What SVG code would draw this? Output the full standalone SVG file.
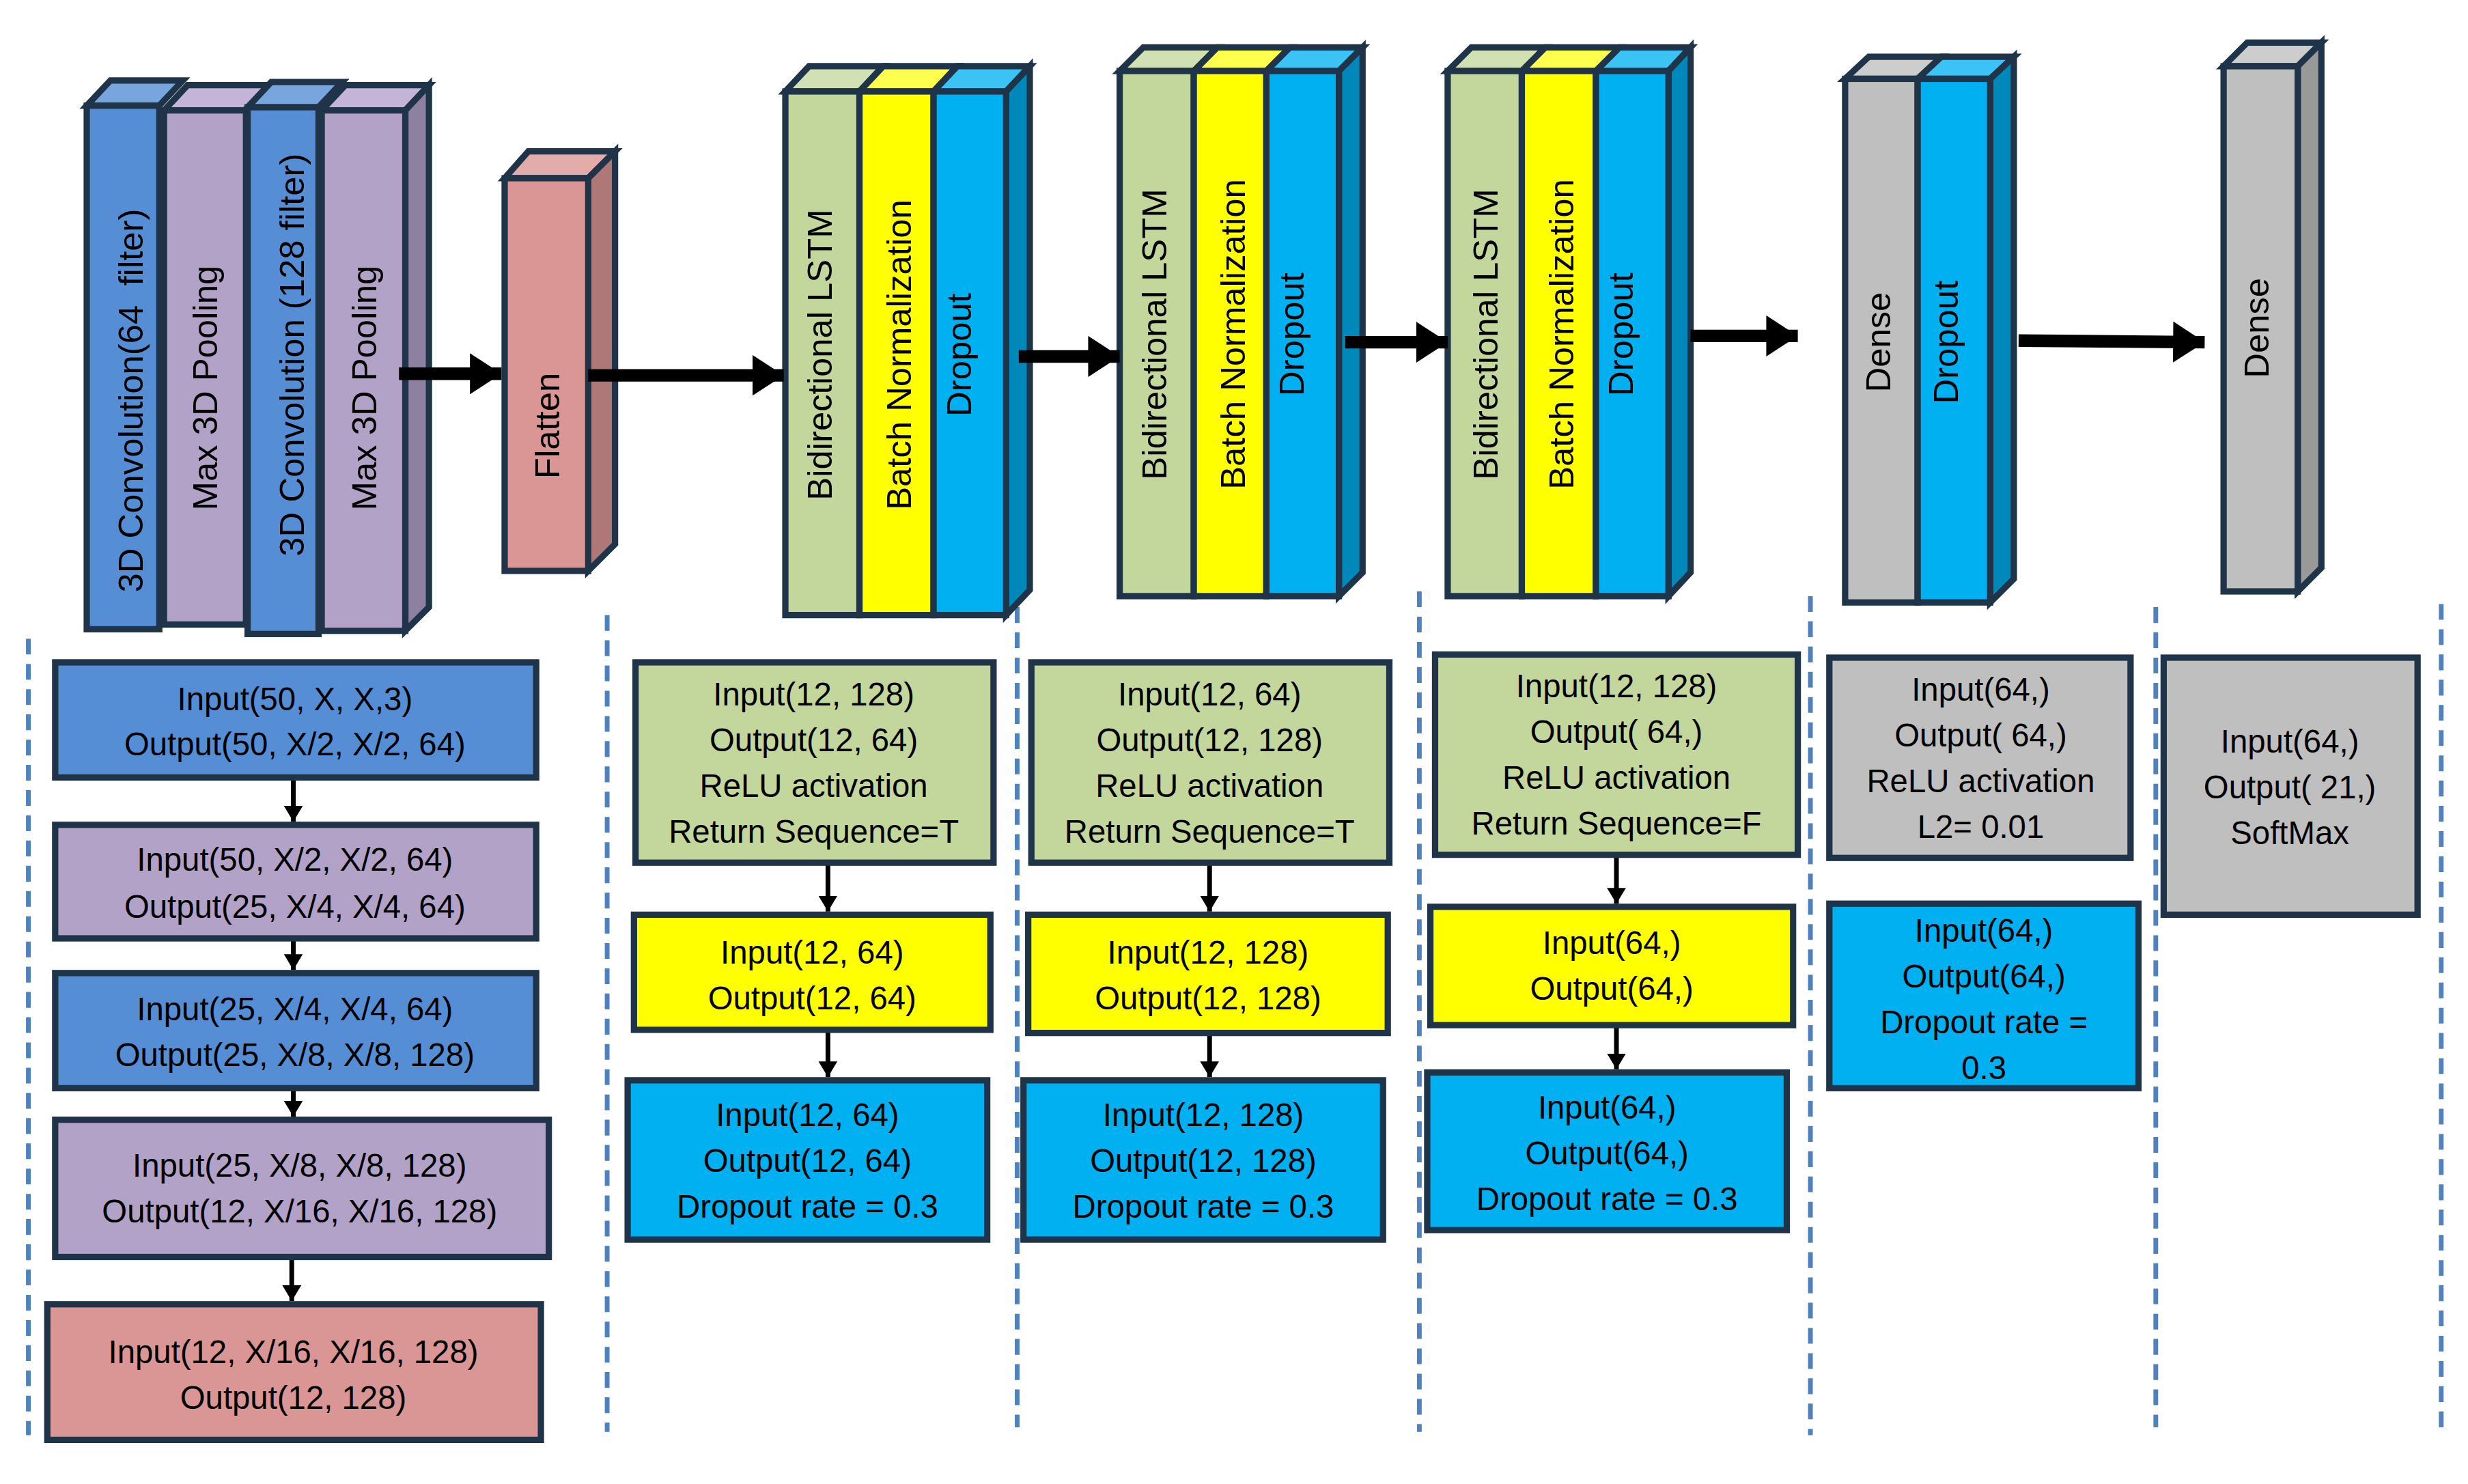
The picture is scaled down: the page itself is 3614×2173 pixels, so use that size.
<svg xmlns="http://www.w3.org/2000/svg" width="3614" height="2173" viewBox="0 0 3614 2173">
<style>
.s{stroke:#1f3349;stroke-width:4;stroke-linejoin:miter}
.t{font-family:"Liberation Sans",Arial,sans-serif;font-size:22px;fill:#000;text-anchor:middle;dominant-baseline:central}
.bt{font-family:"Liberation Sans",Arial,sans-serif;font-size:20.5px;fill:#000;text-anchor:middle;dominant-baseline:central}
.dash{stroke:#4f81bd;stroke-width:3;stroke-dasharray:10,6;fill:none}
.big{stroke:#000;stroke-width:8;fill:none}
.sm{stroke:#000;stroke-width:3;fill:none}
.cb{fill:#558ed5}.cbt{fill:#79a5de}
.pu{fill:#b3a2c7}.put{fill:#c4b5d8}.pur{fill:#8e80a0}
.pk{fill:#d99694}.pkt{fill:#e2acab}.pkr{fill:#ad7877}
.gr{fill:#c3d69b}.grt{fill:#d2e1b3}
.ye{fill:#ffff00}.yet{fill:#ffff4d}
.cy{fill:#00b0f0}.cyt{fill:#3cc3f5}.cyr{fill:#0088bb}
.gy{fill:#bfbfbf}.gyt{fill:#cdcdcd}.gyr{fill:#999999}
</style>
<defs>
<marker id="hb" markerUnits="userSpaceOnUse" markerWidth="20" markerHeight="26" refX="20" refY="13" orient="auto"><path d="M0,0 L20,13 L0,26 Z" fill="#000"/></marker>
<marker id="hs" markerUnits="userSpaceOnUse" markerWidth="10" markerHeight="12" refX="10" refY="6" orient="auto"><path d="M0,0 L10,6 L0,12 Z" fill="#000"/></marker>
</defs>
<rect width="3614" height="2173" fill="#fff"/>
<g transform="scale(2.3093)">
<g id="dashes">
<line class="dash" x1="18" y1="405" x2="18" y2="910"/>
<line class="dash" x1="385" y1="390" x2="385" y2="908"/>
<line class="dash" x1="645" y1="385" x2="645" y2="905"/>
<line class="dash" x1="900" y1="375" x2="900" y2="908"/>
<line class="dash" x1="1148" y1="378" x2="1148" y2="910"/>
<line class="dash" x1="1367" y1="385" x2="1367" y2="905"/>
<line class="dash" x1="1548" y1="383" x2="1548" y2="905"/>
</g>
<g id="stack1">
<polygon class="s cbt" points="55,67 70,51 116,51 101,67"/>
<polygon class="s put" points="104,70 119,54 171,54 156,70"/>
<polygon class="s cbt" points="157,68 172,52 217,52 202,68"/>
<polygon class="s put" points="204,70 219,54 272,54 257,70"/>
<polygon class="s pur" points="257,70 272,54 272,385 257,400"/>
<rect class="s cb" x="55" y="67" width="46" height="332"/>
<rect class="s pu" x="104" y="70" width="52" height="326"/>
<rect class="s cb" x="157" y="68" width="45" height="334"/>
<rect class="s pu" x="204" y="70" width="53" height="330"/>
<text class="t" transform="translate(83,254) rotate(-90)">3D Convolution(64&#160; filter)</text>
<text class="t" transform="translate(130,246) rotate(-90)">Max 3D Pooling</text>
<text class="t" transform="translate(185,225) rotate(-90)">3D Convolution (128 filter)</text>
<text class="t" transform="translate(231,246) rotate(-90)">Max 3D Pooling</text>
</g>
<g id="flatten">
<polygon class="s pkt" points="320,113 335,96 390,96 373,113"/>
<polygon class="s pkr" points="373,113 390,96 390,345 373,362"/>
<rect class="s pk" x="320" y="113" width="53" height="249"/>
<text class="t" transform="translate(347,270) rotate(-90)">Flatten</text>
</g>
<g id="stack2">
<polygon class="s grt" points="498,58 513,42 560,42 545,58"/>
<polygon class="s yet" points="545,58 560,42 607,42 592,58"/>
<polygon class="s cyt" points="592,58 607,42 653,42 638,58"/>
<polygon class="s cyr" points="638,58 653,42 653,374 638,390"/>
<rect class="s gr" x="498" y="58" width="47" height="332"/>
<rect class="s ye" x="545" y="58" width="47" height="332"/>
<rect class="s cy" x="592" y="58" width="46" height="332"/>
<text class="t" transform="translate(520,225) rotate(-90)">Bidirectional LSTM</text>
<text class="t" transform="translate(570,225) rotate(-90)">Batch Normalization</text>
<text class="t" transform="translate(608,225) rotate(-90)">Dropout</text>
</g>
<g id="stack3">
<polygon class="s grt" points="710,45 725,30 772,30 757,45"/>
<polygon class="s yet" points="757,45 772,30 818,30 803,45"/>
<polygon class="s cyt" points="803,45 818,30 864,30 849,45"/>
<polygon class="s cyr" points="849,45 864,30 864,363 849,378"/>
<rect class="s gr" x="710" y="45" width="47" height="333"/>
<rect class="s ye" x="757" y="45" width="46" height="333"/>
<rect class="s cy" x="803" y="45" width="46" height="333"/>
<text class="t" transform="translate(732,212) rotate(-90)">Bidirectional LSTM</text>
<text class="t" transform="translate(782,212) rotate(-90)">Batch Normalization</text>
<text class="t" transform="translate(819,212) rotate(-90)">Dropout</text>
</g>
<g id="stack4">
<polygon class="s grt" points="918,45 933,30 980,30 965,45"/>
<polygon class="s yet" points="965,45 980,30 1027,30 1012,45"/>
<polygon class="s cyt" points="1012,45 1027,30 1072,30 1058,45"/>
<polygon class="s cyr" points="1058,45 1072,30 1072,363 1058,378"/>
<rect class="s gr" x="918" y="45" width="47" height="333"/>
<rect class="s ye" x="965" y="45" width="47" height="333"/>
<rect class="s cy" x="1012" y="45" width="46" height="333"/>
<text class="t" transform="translate(942,212) rotate(-90)">Bidirectional LSTM</text>
<text class="t" transform="translate(990,212) rotate(-90)">Batch Normalization</text>
<text class="t" transform="translate(1028,212) rotate(-90)">Dropout</text>
</g>
<g id="stack5">
<polygon class="s gyt" points="1170,50 1185,36 1231,36 1216,50"/>
<polygon class="s cyt" points="1216,50 1231,36 1277,36 1262,50"/>
<polygon class="s cyr" points="1262,50 1277,36 1277,367 1262,382"/>
<rect class="s gy" x="1170" y="50" width="46" height="332"/>
<rect class="s cy" x="1216" y="50" width="46" height="332"/>
<text class="t" transform="translate(1191,217) rotate(-90)">Dense</text>
<text class="t" transform="translate(1234,217) rotate(-90)">Dropout</text>
</g>
<g id="stack6">
<polygon class="s gyt" points="1410,42 1425,27 1472,27 1457,42"/>
<polygon class="s gyr" points="1457,42 1472,27 1472,360 1457,375"/>
<rect class="s gy" x="1410" y="42" width="47" height="333"/>
<text class="t" transform="translate(1431,208) rotate(-90)">Dense</text>
</g>
<g id="connectors">
<line class="big" x1="253" y1="237" x2="318" y2="237" marker-end="url(#hb)"/>
<line class="big" x1="373" y1="238" x2="497" y2="238" marker-end="url(#hb)"/>
<line class="big" x1="646" y1="226" x2="710" y2="226" marker-end="url(#hb)"/>
<line class="big" x1="853" y1="217" x2="918" y2="217" marker-end="url(#hb)"/>
<line class="big" x1="1072" y1="213" x2="1140" y2="213" marker-end="url(#hb)"/>
<line class="big" x1="1280" y1="216" x2="1398" y2="217" marker-end="url(#hb)"/>
<line class="sm" x1="186" y1="493" x2="186" y2="521" marker-end="url(#hs)"/>
<line class="sm" x1="186" y1="595" x2="186" y2="615" marker-end="url(#hs)"/>
<line class="sm" x1="186" y1="690" x2="186" y2="708" marker-end="url(#hs)"/>
<line class="sm" x1="185" y1="797" x2="185" y2="825" marker-end="url(#hs)"/>
<line class="sm" x1="525" y1="547" x2="525" y2="578" marker-end="url(#hs)"/>
<line class="sm" x1="525" y1="653" x2="525" y2="683" marker-end="url(#hs)"/>
<line class="sm" x1="767" y1="547" x2="767" y2="578" marker-end="url(#hs)"/>
<line class="sm" x1="767" y1="655" x2="767" y2="683" marker-end="url(#hs)"/>
<line class="sm" x1="1025" y1="542" x2="1025" y2="573" marker-end="url(#hs)"/>
<line class="sm" x1="1025" y1="650" x2="1025" y2="678" marker-end="url(#hs)"/>
</g>
<g id="col1">
<g id="b1"><rect class="s cb" x="35" y="420" width="305" height="73"/><text class="bt" x="187" y="443">Input(50, X, X,3)</text><text class="bt" x="187" y="472">Output(50, X/2, X/2, 64)</text></g>
<g id="b2"><rect class="s pu" x="35" y="523" width="305" height="72"/><text class="bt" x="187" y="545">Input(50, X/2, X/2, 64)</text><text class="bt" x="187" y="575">Output(25, X/4, X/4, 64)</text></g>
<g id="b3"><rect class="s cb" x="35" y="617" width="305" height="73"/><text class="bt" x="187" y="640">Input(25, X/4, X/4, 64)</text><text class="bt" x="187" y="669">Output(25, X/8, X/8, 128)</text></g>
<g id="b4"><rect class="s pu" x="35" y="710" width="313" height="87"/><text class="bt" x="190" y="739">Input(25, X/8, X/8, 128)</text><text class="bt" x="190" y="768">Output(12, X/16, X/16, 128)</text></g>
<g id="b5"><rect class="s pk" x="30" y="827" width="313" height="86"/><text class="bt" x="186" y="857">Input(12, X/16, X/16, 128)</text><text class="bt" x="186" y="886">Output(12, 128)</text></g>
</g>
<g id="col2">
<g id="c2a"><rect class="s gr" x="403" y="420" width="227" height="127"/><text class="bt" x="516" y="440">Input(12, 128)</text><text class="bt" x="516" y="469">Output(12, 64)</text><text class="bt" x="516" y="498">ReLU activation</text><text class="bt" x="516" y="527">Return Sequence=T</text></g>
<g id="c2b"><rect class="s ye" x="402" y="580" width="226" height="73"/><text class="bt" x="515" y="604">Input(12, 64)</text><text class="bt" x="515" y="633">Output(12, 64)</text></g>
<g id="c2c"><rect class="s cy" x="398" y="685" width="228" height="101"/><text class="bt" x="512" y="707">Input(12, 64)</text><text class="bt" x="512" y="736">Output(12, 64)</text><text class="bt" x="512" y="765">Dropout rate = 0.3</text></g>
</g>
<g id="col3">
<g id="c3a"><rect class="s gr" x="654" y="420" width="227" height="127"/><text class="bt" x="767" y="440">Input(12, 64)</text><text class="bt" x="767" y="469">Output(12, 128)</text><text class="bt" x="767" y="498">ReLU activation</text><text class="bt" x="767" y="527">Return Sequence=T</text></g>
<g id="c3b"><rect class="s ye" x="652" y="580" width="228" height="75"/><text class="bt" x="766" y="604">Input(12, 128)</text><text class="bt" x="766" y="633">Output(12, 128)</text></g>
<g id="c3c"><rect class="s cy" x="649" y="685" width="228" height="101"/><text class="bt" x="763" y="707">Input(12, 128)</text><text class="bt" x="763" y="736">Output(12, 128)</text><text class="bt" x="763" y="765">Dropout rate = 0.3</text></g>
</g>
<g id="col4">
<g id="c4a"><rect class="s gr" x="910" y="415" width="230" height="127"/><text class="bt" x="1025" y="435">Input(12, 128)</text><text class="bt" x="1025" y="464">Output( 64,)</text><text class="bt" x="1025" y="493">ReLU activation</text><text class="bt" x="1025" y="522">Return Sequence=F</text></g>
<g id="c4b"><rect class="s ye" x="907" y="575" width="230" height="75"/><text class="bt" x="1022" y="598">Input(64,)</text><text class="bt" x="1022" y="627">Output(64,)</text></g>
<g id="c4c"><rect class="s cy" x="905" y="680" width="228" height="100"/><text class="bt" x="1019" y="702">Input(64,)</text><text class="bt" x="1019" y="731">Output(64,)</text><text class="bt" x="1019" y="760">Dropout rate = 0.3</text></g>
</g>
<g id="col5">
<g id="c5a"><rect class="s gy" x="1160" y="417" width="191" height="127"/><text class="bt" x="1256" y="437">Input(64,)</text><text class="bt" x="1256" y="466">Output( 64,)</text><text class="bt" x="1256" y="495">ReLU activation</text><text class="bt" x="1256" y="524">L2= 0.01</text></g>
<g id="c5b"><rect class="s cy" x="1160" y="573" width="196" height="117"/><text class="bt" x="1258" y="590">Input(64,)</text><text class="bt" x="1258" y="619">Output(64,)</text><text class="bt" x="1258" y="648">Dropout rate =</text><text class="bt" x="1258" y="677">0.3</text></g>
</g>
<g id="col6">
<g id="c6a"><rect class="s gy" x="1372" y="417" width="161" height="163"/><text class="bt" x="1452" y="470">Input(64,)</text><text class="bt" x="1452" y="499">Output( 21,)</text><text class="bt" x="1452" y="528">SoftMax</text></g>
</g>
</g>
</svg>
